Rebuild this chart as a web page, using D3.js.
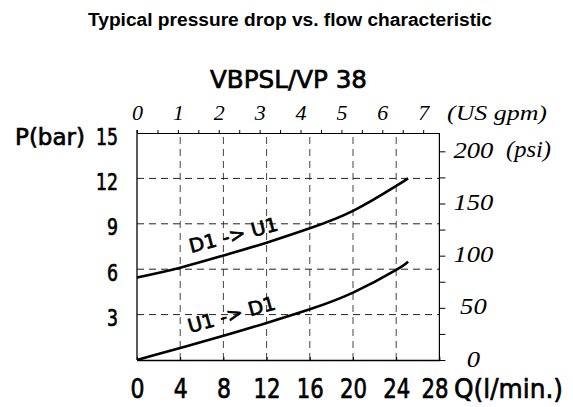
<!DOCTYPE html>
<html><head><meta charset="utf-8">
<script src="https://cdn.jsdelivr.net/npm/d3@7"></script>
<style>body{margin:0;background:#fff}</style>
</head><body>
<svg id="chart" width="573" height="407"></svg>
<script>
// ---- data ----
const flowTicks = [0, 4, 8, 12, 16, 20, 24, 28];          // l/min
const pressureTicks = [3, 6, 9, 12, 15];                   // bar
const gridFlow = [4, 8, 12, 16, 20, 24];
const gridPressure = [3, 6, 9, 12];
const gpmTicks = [0, 1, 2, 3, 4, 5, 6, 7];                 // US gpm
const psiTicks = [0, 50, 100, 150, 200];                   // psi
const d1u1Flow = [0, 4, 8, 12, 16, 20, 24, 25.1];
const d1u1Pressure = [5.45, 6.1, 6.9, 7.75, 8.7, 9.85, 11.5, 12.0];
const u1d1Flow = [0, 4, 8, 12, 16, 20, 24, 25.1];
const u1d1Pressure = [0, 0.8, 1.6, 2.45, 3.35, 4.45, 5.95, 6.5];
const LPM_PER_GPM = 3.785411784;
const BAR_PER_PSI = 0.0689476;

const svg = d3.select("#chart");
const CAD = "'DejaVu Sans', sans-serif";
const SERIF = "'Liberation Serif', 'Times New Roman', serif";

const x = d3.scaleLinear().domain([0, 28]).range([137, 439.4]);
const y = d3.scaleLinear().domain([0, 15]).range([360, 133]);
const xg = d3.scaleLinear().domain([0, 28 / LPM_PER_GPM]).range([137, 439.4]);
const yp = d3.scaleLinear().domain([0, 15 / BAR_PER_PSI]).range([360, 133]);

function cad(sel) {
  return sel.style("font-family", CAD).attr("fill", "#000")
    .attr("stroke", "#000").attr("stroke-width", 0.7).attr("lengthAdjust", "spacingAndGlyphs");
}

// title
svg.append("text").attr("x", 290).attr("y", 26).attr("text-anchor", "middle")
  .style("font-family", "'Liberation Sans', Arial, sans-serif").style("font-weight", "bold")
  .style("font-size", "18px").attr("textLength", 404).attr("lengthAdjust", "spacingAndGlyphs")
  .text("Typical pressure drop vs. flow characteristic");

cad(svg.append("text").attr("x", 210).attr("y", 88))
  .style("font-size", "25px").attr("textLength", 157)
  .text("VBPSL/VP 38");

// grid
const g = svg.append("g");
g.selectAll(".vg").data(gridFlow).join("line")
  .attr("x1", d => x(d)).attr("x2", d => x(d)).attr("y1", y(0)).attr("y2", y(15))
  .attr("stroke", "#444").attr("stroke-width", 1).attr("stroke-dasharray", "7,5");
g.selectAll(".hg").data(gridPressure).join("line")
  .attr("x1", x(0)).attr("x2", x(28)).attr("y1", d => y(d)).attr("y2", d => y(d))
  .attr("stroke", "#222").attr("stroke-width", 1).attr("stroke-dasharray", "7,5");

// left frame line
svg.append("line").attr("x1", x(0)).attr("x2", x(0)).attr("y1", 130).attr("y2", y(0))
  .attr("stroke", "#000").attr("stroke-width", 1.3);

// top axis (gpm)
const topAx = svg.append("g").attr("transform", `translate(0,${y(15)})`)
  .call(d3.axisTop(xg).tickValues(d3.range(0, 7.01, 0.5)).tickSizeInner(3).tickSizeOuter(0)
    .tickPadding(10).tickFormat(d => gpmTicks.includes(d) ? d : ""));
topAx.select(".domain").attr("stroke-width", 1.2);
topAx.selectAll("text").style("font-family", SERIF).style("font-style", "italic")
  .style("font-size", "22px").attr("fill", "#000");
svg.append("text").attr("x", 447).attr("y", 120)
  .style("font-family", SERIF).style("font-style", "italic").style("font-size", "22px")
  .attr("textLength", 100).attr("lengthAdjust", "spacingAndGlyphs").text("(US gpm)");

// right axis (psi)
const rightAx = svg.append("g").attr("transform", `translate(${x(28)},0)`)
  .call(d3.axisRight(yp).tickValues(d3.range(0, 201, 25)).tickSizeInner(6).tickSizeOuter(0)
    .tickFormat(d => psiTicks.includes(d) ? d : ""));
rightAx.select(".domain").attr("d", `M0,${y(15)}V${y(0)}`).attr("stroke-width", 1.2);
rightAx.selectAll("text").attr("x", 34).attr("dy", null).attr("y", 6)
  .attr("text-anchor", "middle")
  .style("font-family", SERIF).style("font-style", "italic").style("font-size", "23px")
  .attr("fill", "#000")
  .each(function(d) { if (psiTicks.includes(d)) d3.select(this).attr("textLength", String(d).length * 13.3).attr("lengthAdjust", "spacingAndGlyphs"); });
svg.append("text").attr("x", 506).attr("y", yp(200) + 6)
  .style("font-family", SERIF).style("font-style", "italic").style("font-size", "23px")
  .attr("textLength", 45).attr("lengthAdjust", "spacingAndGlyphs").text("(psi)");

// bottom axis (l/min)
const botAx = svg.append("g").attr("transform", `translate(0,${y(0)})`)
  .call(d3.axisBottom(x).tickValues(flowTicks).tickSizeInner(-3).tickSizeOuter(0));
botAx.select(".domain").attr("stroke-width", 1.3);
cad(botAx.selectAll("text").attr("dy", null).attr("y", 38)
  .attr("x", d => d === 28 ? -5 : 0))
  .style("font-size", "27px")
  .attr("textLength", d => String(d).length === 1 ? 14 : 27);
cad(svg.append("text").attr("x", 454).attr("y", 398))
  .style("font-size", "27px").attr("textLength", 109).text("Q(l/min.)");

// left axis (bar)
const leftAx = svg.append("g").attr("transform", `translate(${x(0)},0)`)
  .call(d3.axisLeft(y).tickValues(pressureTicks).tickSize(0).tickPadding(19));
leftAx.select(".domain").remove();
cad(leftAx.selectAll("text").attr("dy", null).attr("y", 11))
  .style("font-size", "23px")
  .attr("textLength", d => String(d).length === 1 ? 11 : 22);
cad(svg.append("text").attr("x", 15).attr("y", y(15) + 12))
  .style("font-size", "23px").attr("textLength", 70).text("P(bar)");

// curves
const line = d3.line().x(d => x(d[0])).y(d => y(d[1])).curve(d3.curveNatural);
svg.append("path").datum(d1u1Flow.map((f, i) => [f, d1u1Pressure[i]]))
  .attr("d", line).attr("fill", "none").attr("stroke", "#000").attr("stroke-width", 2.6);
svg.append("path").datum(u1d1Flow.map((f, i) => [f, u1d1Pressure[i]]))
  .attr("d", line).attr("fill", "none").attr("stroke", "#000").attr("stroke-width", 2.6);

// curve labels
cad(svg.append("text").attr("transform", "translate(191,253) rotate(-14.5)"))
  .style("font-size", "19px").attr("textLength", 91).text("D1 -> U1");
cad(svg.append("text").attr("transform", "translate(190,333) rotate(-15.5)"))
  .style("font-size", "19px").attr("textLength", 90).text("U1 -> D1");
</script>
</body></html>
